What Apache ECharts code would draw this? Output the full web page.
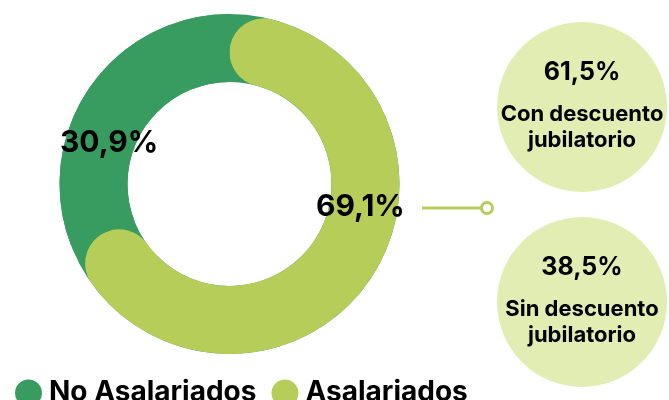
<!DOCTYPE html>
<html>
<head>
<meta charset="utf-8">
<script src="https://cdn.jsdelivr.net/npm/echarts@6/dist/echarts.min.js"></script>
<style>
  html, body { margin: 0; padding: 0; background: #fff; }
  #chart { width: 669px; height: 400px; }
</style>
</head>
<body>
<div id="chart"></div>
<script>
// datos
var categories = ['No Asalariados', 'Asalariados'];
var shares = [30.9, 69.1];
var colors = ['#389b5f', '#b6cd5a'];
var subLabels = ['Con descuento\njubilatorio', 'Sin descuento\njubilatorio'];
var subShares = [61.5, 38.5];

function pct(v) {
    return v.toFixed(1).replace('.', ',') + '%';
}

var font = 'Inter, "Noto Sans", sans-serif';
var myChart = echarts.init(document.getElementById('chart'), null, { renderer: 'canvas' });

// Asalariados va primero para que empiece arriba
var pieData = [
    { name: categories[1], value: shares[1], itemStyle: { color: colors[1], borderRadius: 34 } },
    { name: categories[0], value: shares[0], itemStyle: { color: colors[0] } }
];

var graphics = [
    { type: 'text', left: 60, top: 128, style: { text: pct(shares[0]), font: 'bold 30px ' + font, fill: '#000' }, z: 10 },
    { type: 'text', left: 316, top: 192, style: { text: pct(shares[1]), font: 'bold 30px ' + font, fill: '#000' }, z: 10 },
    { type: 'line', shape: { x1: 422, y1: 208, x2: 481, y2: 208 }, style: { stroke: colors[1], lineWidth: 3 } },
    { type: 'circle', shape: { cx: 487, cy: 208, r: 5.5 }, style: { fill: '#fff', stroke: colors[1], lineWidth: 3 } }
];

var circleY = [107, 302];
subShares.forEach(function (v, i) {
    var cy = circleY[i];
    graphics.push({ type: 'circle', shape: { cx: 582, cy: cy, r: 85 }, style: { fill: '#e2edb4' } });
    graphics.push({
        type: 'text', x: 582, y: cy - 35,
        style: { text: pct(v), font: 'bold 25px ' + font, fill: '#000', align: 'center', verticalAlign: 'middle' }
    });
    graphics.push({
        type: 'text', x: 582, y: cy + 20,
        style: { text: subLabels[i], font: 'bold 22px ' + font, fill: '#000', align: 'center', verticalAlign: 'middle', lineHeight: 26 }
    });
});

myChart.setOption({
    animation: false,
    legend: {
        data: categories,
        left: 10,
        top: 374,
        icon: 'circle',
        itemWidth: 27,
        itemHeight: 27,
        itemGap: 15,
        textStyle: { fontFamily: font, fontWeight: 'bold', fontSize: 28, color: '#000', padding: [0, 0, 0, 2] }
    },
    color: colors,
    series: [
        {
            // anillo de fondo
            type: 'pie',
            center: [229.5, 184],
            radius: [102, 170],
            silent: true,
            label: { show: false },
            labelLine: { show: false },
            data: [{ name: '', value: 1, itemStyle: { color: colors[0] } }],
            z: 1
        },
        {
            type: 'pie',
            center: [229.5, 184],
            radius: [102, 170],
            startAngle: 90,
            clockwise: true,
            silent: true,
            label: { show: false },
            labelLine: { show: false },
            data: pieData,
            z: 2
        }
    ],
    graphic: graphics
});
</script>
</body>
</html>
